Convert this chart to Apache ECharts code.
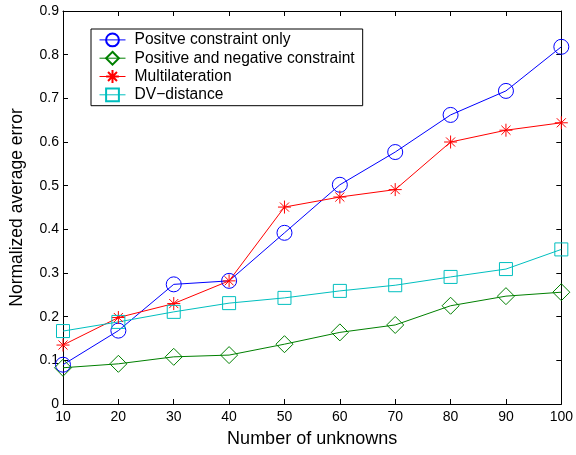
<!DOCTYPE html>
<html><head><meta charset="utf-8">
<script src="https://cdn.jsdelivr.net/npm/echarts@6/dist/echarts.min.js"></script>
<style>html,body{margin:0;padding:0;background:#fff}#c{width:576px;height:455px}</style>
</head><body><div id="c"></div>
<script>
var unknowns = [10, 20, 30, 40, 50, 60, 70, 80, 90, 100];
var positiveOnly = [0.090, 0.168, 0.274, 0.282, 0.392, 0.502, 0.577, 0.662, 0.717, 0.818];
var posNeg = [0.083, 0.092, 0.108, 0.112, 0.137, 0.164, 0.181, 0.225, 0.247, 0.256];
var multilateration = [0.135, 0.198, 0.230, 0.282, 0.451, 0.474, 0.491, 0.600, 0.627, 0.644];
var dvDistance = [0.167, 0.188, 0.211, 0.231, 0.243, 0.259, 0.272, 0.291, 0.309, 0.354];
var names = ['Positve constraint only', 'Positive and negative constraint', 'Multilateration', 'DV\u2212distance'];

var font = 'Liberation Sans, Arial, sans-serif';
var star = 'path://M0,-10L0,10M-10,0L10,0M-7,-7L7,7M-7,7L7,-7';
function pairs(arr){ return unknowns.map(function(x,i){ return [x, arr[i]]; }); }
function mk(name, data, color, symbol, size){
  return {
    name: name, type: 'line', data: pairs(data), symbol: symbol, symbolSize: size,
    lineStyle: {color: color, width: 1},
    itemStyle: {color: 'none', borderColor: color, borderWidth: 1},
    emphasis: {disabled: true}, animation: false, z: 3
  };
}
var axisCommon = {
  axisLine: {show: true, onZero: false, lineStyle: {color: '#000', width: 1}},
  axisTick: {show: true, inside: true, length: 5, lineStyle: {color: '#000'}},
  splitLine: {show: false}
};
var chart = echarts.init(document.getElementById('c'), null, {renderer: 'canvas'});
chart.setOption({
  backgroundColor: '#fff',
  animation: false,
  grid: {left: 63, right: 13, top: 11, bottom: 51, containLabel: false},
  legend: {
    orient: 'vertical', left: 91, top: 29,
    borderColor: '#000', borderWidth: 1, padding: [2, 8, 2, 8],
    itemWidth: 26, itemHeight: 16, itemGap: 0.5,
    lineStyle: {width: 1},
    textStyle: {fontFamily: font, fontSize: 15.6, lineHeight: 15, color: '#000', padding: [0, 0, 0, 4]},
    data: names, selectedMode: false
  },
  xAxis: [
    Object.assign({type: 'value', min: 10, max: 100, interval: 10, position: 'bottom',
      name: 'Number of unknowns', nameLocation: 'middle', nameGap: 26,
      nameTextStyle: {fontFamily: font, fontSize: 18, color: '#000'},
      axisLabel: {fontFamily: font, fontSize: 14, color: '#000', margin: 6}}, axisCommon),
    Object.assign({type: 'value', min: 10, max: 100, interval: 10, position: 'top',
      axisLabel: {show: false}}, axisCommon)
  ],
  yAxis: [
    Object.assign({type: 'value', min: 0, max: 0.9, interval: 0.1, position: 'left',
      name: 'Normalized average error', nameLocation: 'middle', nameGap: 37,
      nameTextStyle: {fontFamily: font, fontSize: 17.5, color: '#000'},
      axisLabel: {fontFamily: font, fontSize: 14, color: '#000', margin: 4}}, axisCommon),
    Object.assign({type: 'value', min: 0, max: 0.9, interval: 0.1, position: 'right',
      axisLabel: {show: false}}, axisCommon)
  ],
  series: [
    mk(names[0], positiveOnly, '#0000ff', 'circle', 15),
    mk(names[1], posNeg, '#008000', 'diamond', 17),
    mk(names[2], multilateration, '#ff0000', star, 13),
    mk(names[3], dvDistance, '#00bfbf', 'rect', 13)
  ]
});
</script></body></html>
